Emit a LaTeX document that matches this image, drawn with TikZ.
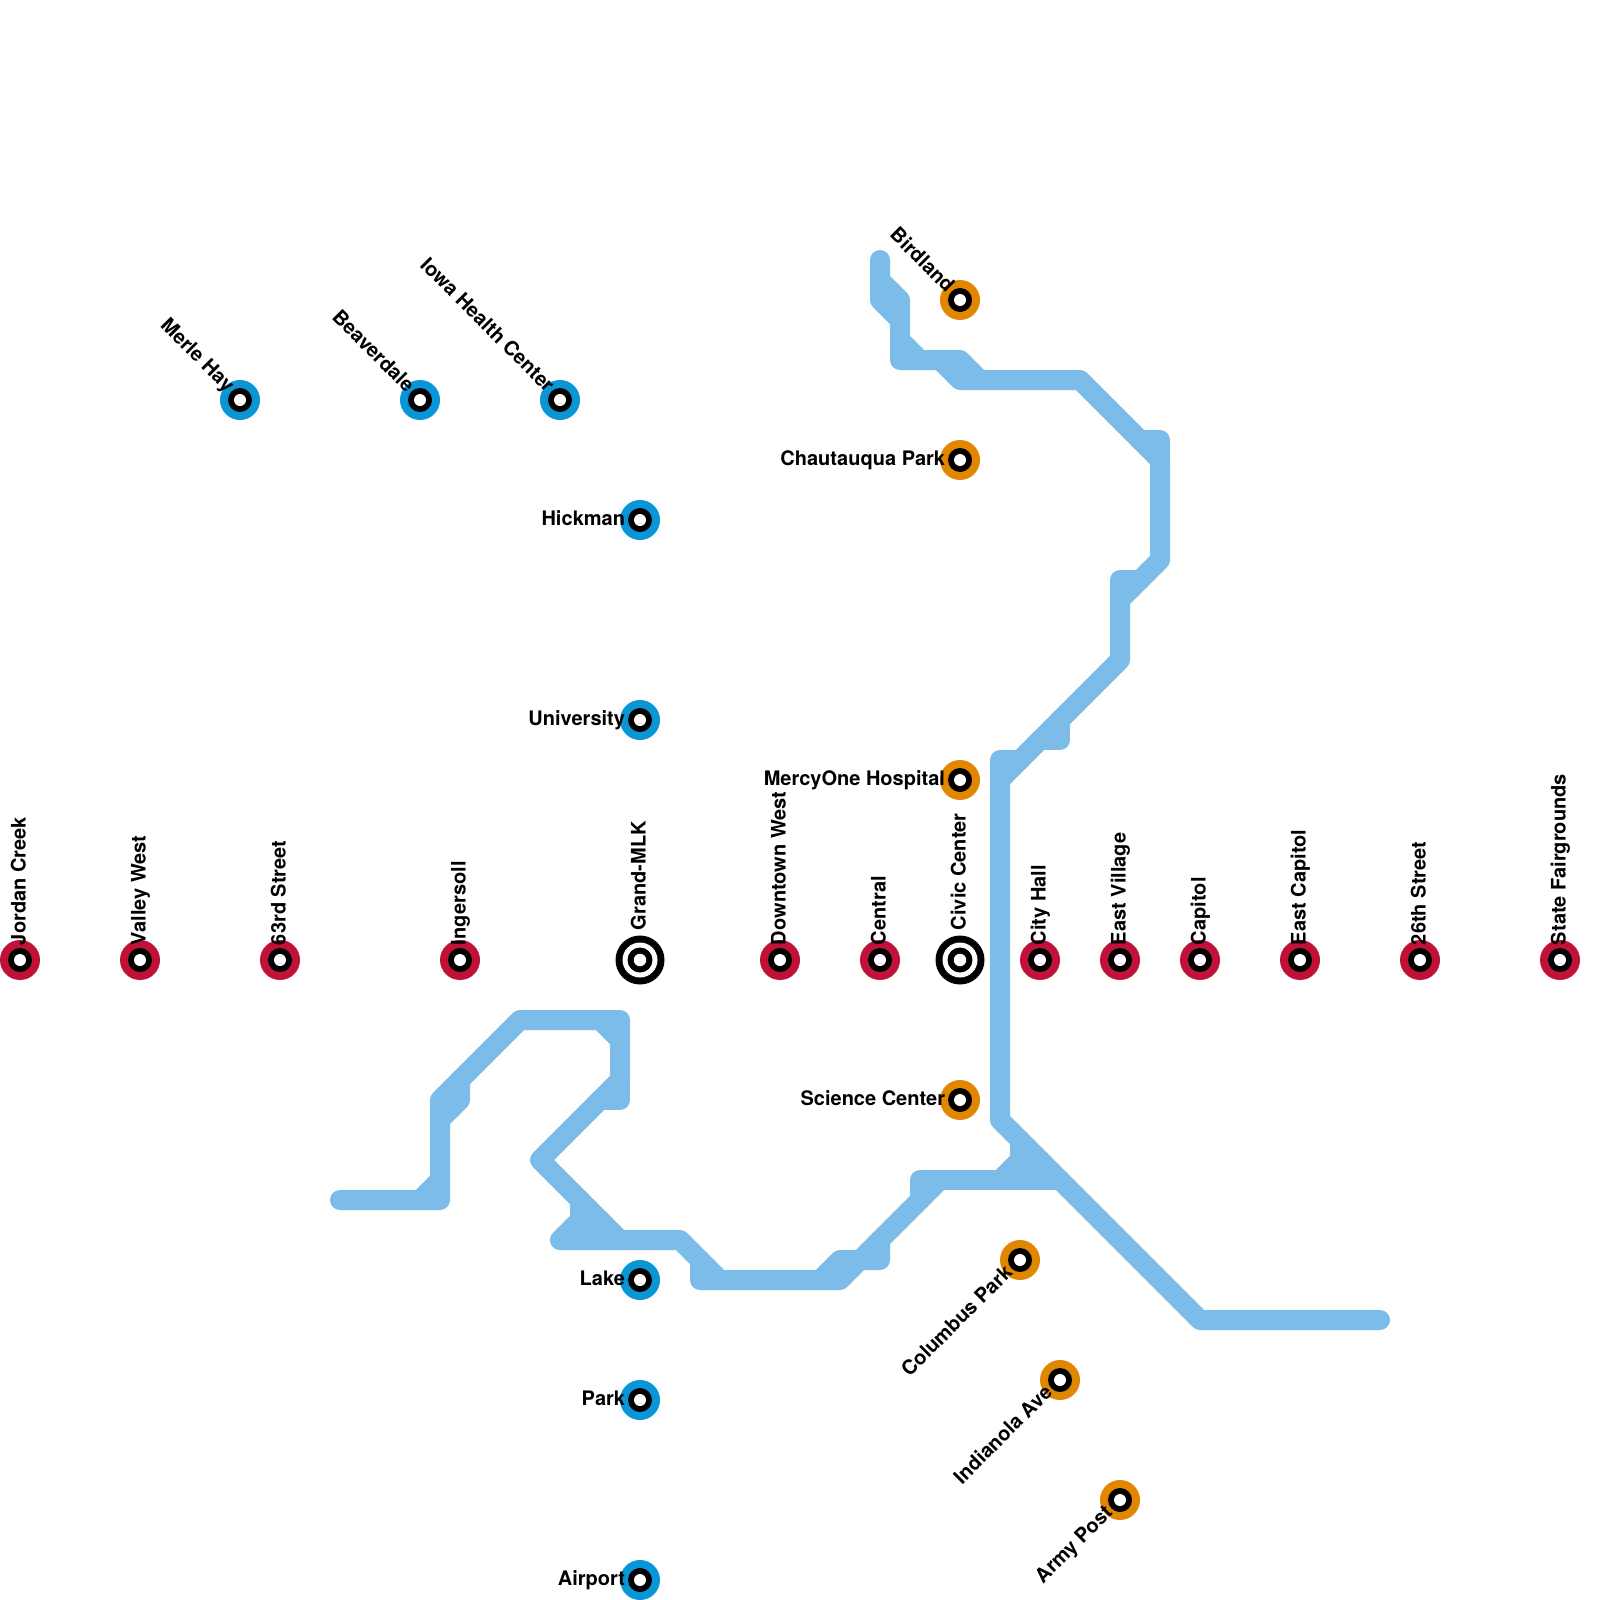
\documentclass[tikz,border=0pt]{standalone}
\usepackage{fontspec}
\setmainfont{TeX Gyre Heros}
\definecolor{route}{HTML}{7BBDE8}
\definecolor{lineblue}{HTML}{0896D7}
\definecolor{lineorange}{HTML}{E08600}
\definecolor{linered}{HTML}{BE1238}
\tikzset{
  x=1pt,y=-1pt,
  routeline/.style={draw=route,line width=20pt,line cap=round,line join=round},
  disc/.style={circle,inner sep=0pt,outer sep=0pt,draw=none},
  stationlabel/.style={inner sep=0pt,outer sep=0pt,anchor=mid east,font=\fontsize{20}{20}\selectfont\bfseries,text=black},
  uplabel/.style={stationlabel,anchor=mid west},
}
% \stn{name}{x}{y}{colour}
\newcommand{\stn}[4]{%
  \node[disc,fill=#4,minimum size=40pt] (#1) at (#2,#3) {};
  \node[disc,fill=black,minimum size=24pt] at (#2,#3) {};
  \node[disc,fill=white,minimum size=12pt] at (#2,#3) {};}
\newcommand{\hub}[3]{%
  \node[disc,fill=black,minimum size=49pt] (#1) at (#2,#3) {};
  \node[disc,fill=white,minimum size=35pt] at (#2,#3) {};
  \node[disc,fill=black,minimum size=25pt] at (#2,#3) {};
  \node[disc,fill=white,minimum size=12.5pt] at (#2,#3) {};}
% \lab{station}{angle}{dx}{dy}{text}  (dx right, dy down, in pixels)
\newcommand{\lab}[5]{\node[stationlabel,rotate=#2] at ([xshift=#3pt,yshift=-#4pt]#1.center) {#5};}
% \uplab{station}{rise}{text}: reads upward from just above the station
\newcommand{\uplab}[3]{\node[uplabel,rotate=90] at ([xshift=3pt,yshift=#2pt]#1.center) {#3};}
\begin{document}
\begin{tikzpicture}
\useasboundingbox (0,0) rectangle (1600,1600);
\fill[white] (0,0) rectangle (1600,1600);
% upper route
\draw[routeline] (880,260)--(880,300)--(900,320)--(900,360)--(960,360)--(980,380)--(1080,380)--(1160,460)--(1160,560)--(1120,600)--(1120,660)--(1000,780)--(1000,1120)--(1200,1320)--(1380,1320);
\draw[routeline] (880,280)--(900,300)--(900,320);
\draw[routeline] (900,340)--(920,360);
\draw[routeline] (940,360)--(960,380)--(980,380);
\draw[routeline] (1140,440)--(1160,440)--(1160,460);
\draw[routeline] (1120,600)--(1120,580)--(1140,580);
\draw[routeline] (1040,740)--(1060,740)--(1060,720);
\draw[routeline] (1000,780)--(1000,760)--(1020,760);
% lower branch
\draw[routeline] (1060,1180)--(920,1180)--(920,1200);
\draw[routeline] (1020,1140)--(1020,1160)--(1000,1180);
\draw[routeline] (1020,1160)--(1040,1160);
\draw[routeline] (940,1180)--(840,1280)--(700,1280)--(700,1260);
\draw[routeline] (820,1280)--(840,1260)--(880,1260)--(880,1240);
\draw[routeline] (720,1280)--(680,1240)--(560,1240)--(580,1220)--(580,1200);
\draw[routeline] (580,1220)--(600,1220);
\draw[routeline] (620,1240)--(540,1160)--(620,1080)--(620,1020)--(520,1020)--(440,1100)--(440,1200)--(340,1200);
\draw[routeline] (620,1080)--(620,1100)--(600,1100);
\draw[routeline] (600,1020)--(620,1040);
\draw[routeline] (460,1080)--(460,1100)--(440,1120);
\draw[routeline] (420,1200)--(440,1180);
% red line
\stn{jordan}{20}{960}{linered}
\stn{valley}{140}{960}{linered}
\stn{sixtythird}{280}{960}{linered}
\stn{ingersoll}{460}{960}{linered}
\hub{grand}{640}{960}
\stn{downtown}{780}{960}{linered}
\stn{central}{880}{960}{linered}
\hub{civic}{960}{960}
\stn{cityhall}{1040}{960}{linered}
\stn{eastvillage}{1120}{960}{linered}
\stn{capitol}{1200}{960}{linered}
\stn{eastcapitol}{1300}{960}{linered}
\stn{twentysixth}{1420}{960}{linered}
\stn{fair}{1560}{960}{linered}
% blue line
\stn{merle}{240}{400}{lineblue}
\stn{beaverdale}{420}{400}{lineblue}
\stn{iowahealth}{560}{400}{lineblue}
\stn{hickman}{640}{520}{lineblue}
\stn{university}{640}{720}{lineblue}
\stn{lake}{640}{1280}{lineblue}
\stn{park}{640}{1400}{lineblue}
\stn{airport}{640}{1580}{lineblue}
% orange line
\stn{birdland}{960}{300}{lineorange}
\stn{chautauqua}{960}{460}{lineorange}
\stn{mercy}{960}{780}{lineorange}
\stn{science}{960}{1100}{lineorange}
\stn{columbus}{1020}{1260}{lineorange}
\stn{indianola}{1060}{1380}{lineorange}
\stn{armypost}{1120}{1500}{lineorange}
% labels
\uplab{jordan}{15}{Jordan Creek}
\uplab{valley}{15}{Valley West}
\uplab{sixtythird}{15}{63rd Street}
\uplab{ingersoll}{15}{Ingersoll}
\uplab{grand}{30}{Grand-MLK}
\uplab{downtown}{15}{Downtown West}
\uplab{central}{15}{Central}
\uplab{civic}{30}{Civic Center}
\uplab{cityhall}{15}{City Hall}
\uplab{eastvillage}{15}{East Village}
\uplab{capitol}{15}{Capitol}
\uplab{eastcapitol}{15}{East Capitol}
\uplab{twentysixth}{15}{26th Street}
\uplab{fair}{15}{State Fairgrounds}
\lab{merle}{-45}{-12}{-8.5}{Merle Hay}
\lab{beaverdale}{-45}{-12}{-8.5}{Beaverdale}
\lab{iowahealth}{-45}{-12}{-8.5}{Iowa Health Center}
\lab{hickman}{0}{-15}{3}{Hickman}
\lab{university}{0}{-15}{3}{University}
\lab{lake}{0}{-15}{3}{Lake}
\lab{park}{0}{-15}{3}{Park}
\lab{airport}{0}{-15}{3}{Airport}
\lab{birdland}{-45}{-12}{-8.5}{Birdland}
\lab{chautauqua}{0}{-15}{3}{Chautauqua Park}
\lab{mercy}{0}{-15}{3}{MercyOne Hospital}
\lab{science}{0}{-15}{3}{Science Center}
\lab{columbus}{45}{-8.5}{12}{Columbus Park}
\lab{indianola}{45}{-8.5}{12}{Indianola Ave}
\lab{armypost}{45}{-8.5}{12}{Army Post}
\end{tikzpicture}
\end{document}
